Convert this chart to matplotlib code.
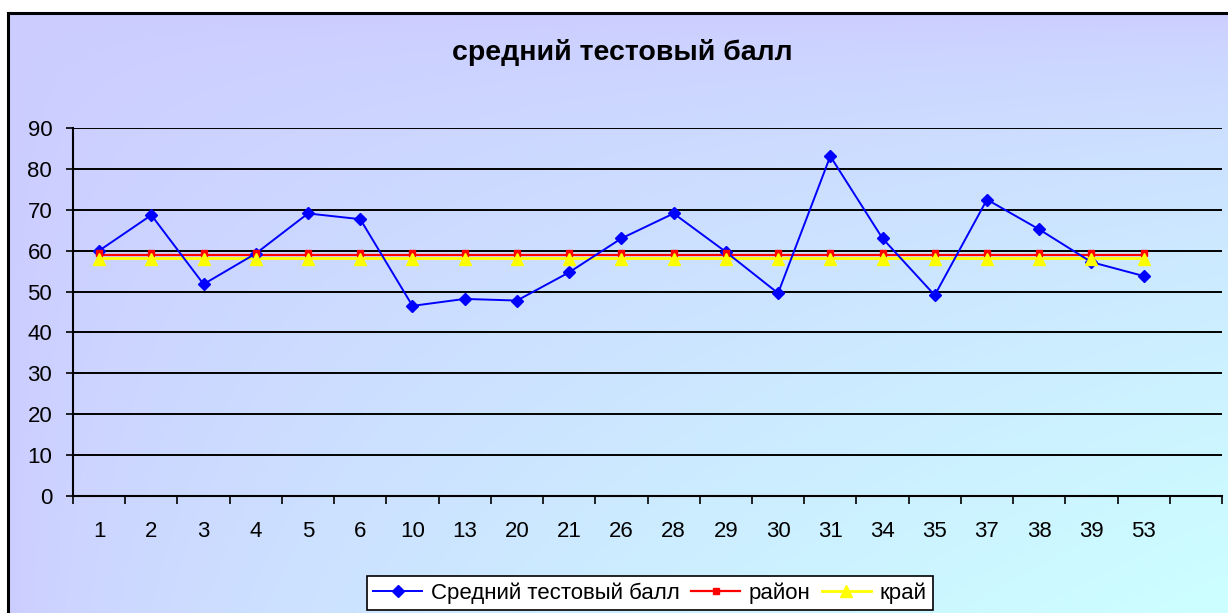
import numpy as np
import matplotlib
matplotlib.use("Agg")
import matplotlib.pyplot as plt
from matplotlib.lines import Line2D

plt.rcParams['font.family'] = ['Liberation Sans', 'DejaVu Sans']

# data
schools = ['1', '2', '3', '4', '5', '6', '10', '13', '20', '21', '26',
           '28', '29', '30', '31', '34', '35', '37', '38', '39', '53']
avg_score = [60.0, 68.7, 51.8, 59.3, 69.1, 67.7, 46.5, 48.2, 47.8, 54.7, 63.0,
             69.1, 59.7, 49.6, 83.1, 63.0, 49.1, 72.5, 65.2, 57.2, 53.8]
rayon = [58.9] * len(schools)
krai = [58.2] * len(schools)
yticks = [0, 10, 20, 30, 40, 50, 60, 70, 80, 90]

W, H = 1228, 613
fig = plt.figure(figsize=(W / 100, H / 100), dpi=100)
fig.patch.set_facecolor('white')

# background gradient (lavender top-left -> light cyan bottom-right)
bx0, by0 = 8, 13
bg = fig.add_axes([bx0 / W, 0, 1 - bx0 / W, 1 - by0 / H], zorder=-10)
gx, gy = np.meshgrid(np.linspace(0, 1, 300), np.linspace(0, 1, 150))
t = np.clip((gx * gy) ** 0.6, 0, 1)
img = np.zeros((150, 300, 3))
img[..., 0] = 204 / 255
img[..., 1] = (204 + 51 * t) / 255
img[..., 2] = 1.0
bg.imshow(img, aspect='auto', extent=[0, 1, 1, 0], interpolation='bilinear')
bg.set_xlim(0, 1)
bg.set_ylim(1, 0)
bg.axis('off')
bg.plot([0, 0], [1, 0], color='black', lw=2.2, clip_on=False)
bg.plot([0, 1], [0, 0], color='black', lw=2.2, clip_on=False)

left, right, top, bottom = 73, 1222, 128, 496
ax = fig.add_axes([left / W, 1 - bottom / H, (right - left) / W, (bottom - top) / H])
ax.set_facecolor('none')

n = len(schools)
x = np.arange(n) + 0.5

# lines first, then markers (Excel-like draw order)
ax.plot(x, krai, color='#FFFF00', lw=2.0, zorder=3)
ax.plot(x, rayon, color='#FF0000', lw=1.6, zorder=3.1)
ax.plot(x, avg_score, color='#0000FF', lw=1.4, zorder=3.2)
ax.plot(x, avg_score, ls='none', marker='D', ms=6.5, color='#0000FF', zorder=4)
ax.plot(x, np.array(rayon) + 0.5, ls='none', marker='s', ms=5, color='#FF0000', zorder=4.1)
ax.plot(x, np.array(krai) - 0.3, ls='none', marker='^', ms=8, color='#FFFF00', zorder=4.2)

ax.set_xlim(0, n + 1)
ax.set_ylim(0, 90)
ax.set_yticks(yticks)
ax.yaxis.grid(True, color='black', lw=1.4)
ax.set_axisbelow(True)
ax.tick_params(axis='y', direction='out', length=5, width=1.2, pad=10, labelsize=16)

ax.set_xticks(np.arange(n + 2))
ax.set_xticklabels([])
ax.set_xticks(x, minor=True)
ax.set_xticklabels(schools, minor=True)
ax.tick_params(axis='x', which='major', direction='out', length=5.5, width=1.2)
ax.tick_params(axis='x', which='minor', length=0, pad=18, labelsize=16)

for s in ['top', 'right']:
    ax.spines[s].set_visible(False)
ax.spines['left'].set_linewidth(1.5)
ax.spines['bottom'].set_linewidth(1.5)

fig.text(622 / W, 1 - 52 / H, 'средний тестовый балл', ha='center', va='center',
         fontsize=20.5, fontweight='bold')

handles = [
    Line2D([], [], color='#0000FF', lw=1.4, marker='D', ms=6.5),
    Line2D([], [], color='#FF0000', lw=1.6, marker='s', ms=5),
    Line2D([], [], color='#FFFF00', lw=2.0, marker='^', ms=8),
]
leg = fig.legend(handles, ['Средний тестовый балл', 'район', 'край'],
                 loc='center', bbox_to_anchor=(650 / W, 1 - 593 / H), ncol=3,
                 fontsize=16, frameon=True, fancybox=False, framealpha=1,
                 edgecolor='black', handlelength=2.2, handletextpad=0.4,
                 columnspacing=0.5, borderpad=0.3)
leg.get_frame().set_linewidth(1.2)

fig.savefig('out.png', dpi=100)
